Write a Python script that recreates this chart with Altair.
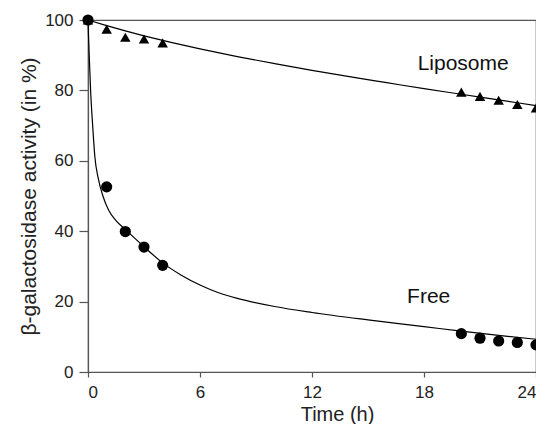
import altair as alt
import pandas as pd

# measured points
time_pts = [0, 1, 2, 3, 4, 20, 21, 22, 23, 24]
liposome_pts = [100, 97.4, 95.1, 94.6, 93.5, 79.5, 78.3, 77.2, 76.0, 75.0]
free_pts = [100, 52.6, 39.9, 35.5, 30.3, 10.9, 9.6, 8.8, 8.4, 7.7]

# fitted curves
lip_fit_t = [0, 1, 2, 3, 4, 6, 8, 10, 12, 14, 16, 18, 20, 22, 24]
lip_fit_v = [100, 98.4, 96.9, 95.5, 94.2, 91.8, 89.6, 87.6, 85.7, 83.9, 82.2, 80.5, 78.9, 77.3, 75.7]
free_fit_t = [0, 0.03, 0.08, 0.14, 0.25, 0.37, 0.55, 0.8, 1.1, 1.5, 2, 3, 4, 5, 6, 7, 8, 10, 12, 15, 18, 20, 22, 24]
free_fit_v = [100, 95, 88, 80, 70, 61, 55, 50, 46, 43, 40.5, 35.6, 31, 27.5, 24.7, 22.5, 20.9, 18.6, 16.9, 14.8, 12.9, 11.6, 10.4, 9.3]

labels = ["Liposome", "Free"]
label_x = [20.1, 18.25]
label_y = [87.5, 21.2]

FONT = "Liberation Sans"

pts = pd.DataFrame({"t": time_pts, "lip": liposome_pts, "free": free_pts})
lip_fit = pd.DataFrame({"t": lip_fit_t, "v": lip_fit_v})
free_fit = pd.DataFrame({"t": free_fit_t, "v": free_fit_v})
lab = pd.DataFrame({"label": labels, "x": label_x, "y": label_y})

xscale = alt.Scale(domain=[0, 24], nice=False, zero=False)
yscale = alt.Scale(domain=[0, 100], nice=False)

xaxis = alt.Axis(values=[0, 6, 12, 18, 24], title="Time (h)", grid=False,
                 titleFontSize=20, titleX=249, titleY=48, titleBaseline="alphabetic",
                 labelPadding=7, tickSize=5)
yaxis = alt.Axis(values=[0, 20, 40, 60, 80, 100], title="β-galactosidase activity (in %)", grid=False,
                 titleFontSize=21, titlePadding=5, labelPadding=6, tickSize=9)

lip_line = alt.Chart(lip_fit).mark_line(color="black", strokeWidth=1.2, interpolate="monotone").encode(
    x=alt.X("t:Q", scale=xscale, axis=xaxis),
    y=alt.Y("v:Q", scale=yscale, axis=yaxis),
)
free_line = alt.Chart(free_fit).mark_line(color="black", strokeWidth=1.2, interpolate="monotone").encode(
    x=alt.X("t:Q", scale=xscale),
    y=alt.Y("v:Q", scale=yscale),
)
tri = alt.Chart(pts).mark_point(shape="triangle-up", filled=True, color="black", size=110, opacity=1).encode(
    x=alt.X("t:Q", scale=xscale),
    y=alt.Y("lip:Q", scale=yscale),
)
circ = alt.Chart(pts).mark_point(shape="circle", filled=True, color="black", size=125, opacity=1).encode(
    x=alt.X("t:Q", scale=xscale),
    y=alt.Y("free:Q", scale=yscale),
)
text = alt.Chart(lab).mark_text(font=FONT, fontSize=21, color="#111").encode(
    x=alt.X("x:Q", scale=xscale),
    y=alt.Y("y:Q", scale=yscale),
    text="label:N",
)

chart = alt.layer(lip_line, free_line, tri, circ, text).properties(
    width=448, height=352,
    autosize=alt.AutoSizeParams(type="none"),
    padding={"left": 80, "top": 12, "right": 0, "bottom": 52},
).configure_view(
    stroke="#555", strokeWidth=1.2
).configure_axis(
    domainColor="#555", domainWidth=1.2, tickColor="#555", tickWidth=1.2,
    labelFont=FONT, labelFontSize=17, labelColor="#222",
    titleFont=FONT, titleFontWeight="normal", titleColor="#222",
)

chart.save("out.html", embed_options={"renderer": "svg", "actions": False})
